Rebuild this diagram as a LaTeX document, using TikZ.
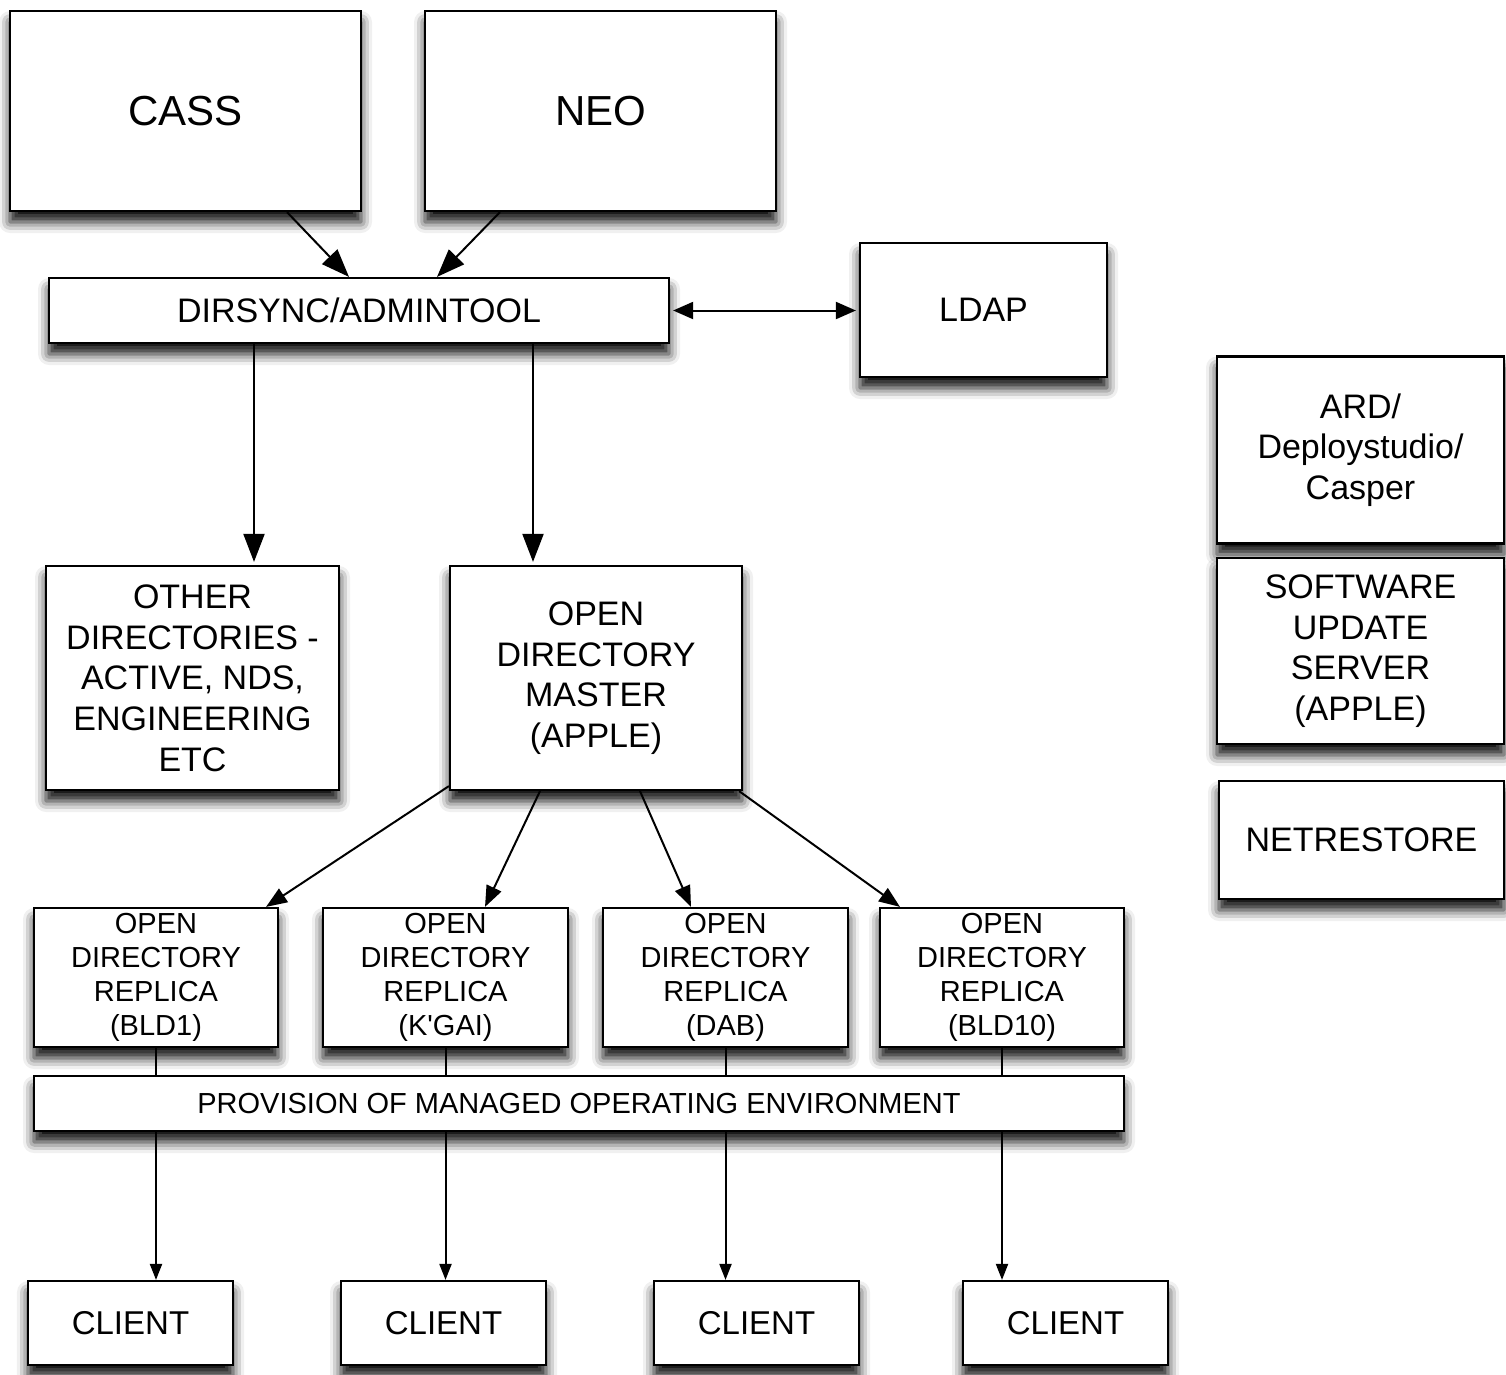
\documentclass[tikz,border=0pt]{standalone}
\usepackage{fontspec}
\setmainfont{Liberation Sans}[Ligatures=TeXOff]
\usetikzlibrary{arrows.meta,shadows.blur}
\begin{document}
\begin{tikzpicture}[x=1pt,y=-1pt,
  box/.style={draw, line width=2.2pt, fill=white, align=center, inner sep=0pt,
    blur shadow={shadow xshift=0pt, shadow yshift=-11pt, shadow blur radius=11pt, shadow opacity=95}},
  huge/.style={font=\fontsize{42}{50}\selectfont},
  big/.style={font=\fontsize{34}{40.7}\selectfont},
  cli/.style={font=\fontsize{33}{40}\selectfont},
  small/.style={font=\fontsize{29}{34.2}\selectfont},
  conn/.style={line width=2pt},
  arrbig/.style={conn, -{Triangle[length=28pt,width=21pt]}},
  arrmid/.style={conn, -{Triangle[length=21pt,width=16pt]}},
  arrsmall/.style={conn, -{Triangle[length=16pt,width=12pt]}},
  arrboth/.style={conn, {Triangle[length=20pt,width=17pt]}-{Triangle[length=20pt,width=17pt]}, shorten <=3pt, shorten >=3pt}]
\useasboundingbox (0,0) rectangle (1506,1374);

% top sources
\node[box,huge,minimum width=351pt,minimum height=200pt] (cass) at (185.5,111) {CASS};
\node[box,huge,minimum width=351pt,minimum height=200pt] (neo) at (600.5,111) {NEO};

% synchronisation layer
\node[box,big,minimum width=620pt,minimum height=65pt] (dirsync) at (359,310.5) {DIRSYNC/ADMINTOOL};
\node[box,big,minimum width=247pt,minimum height=134pt] (ldap) at (983.5,310) {LDAP};

% side services
\node[box,big,minimum width=287pt,minimum height=187pt] (ard) at (1360.5,450) {ARD/\\Deploystudio/\\Casper};
\node[box,big,minimum width=287pt,minimum height=186pt] (sus) at (1360.5,651) {SOFTWARE\\UPDATE\\SERVER\\(APPLE)};
\node[box,big,minimum width=285pt,minimum height=118pt] (netrestore) at (1361.5,840) {NETRESTORE};

% directories
\node[box,big,minimum width=293pt,minimum height=224pt] (other) at (192.5,678) {OTHER\\DIRECTORIES -\\ACTIVE, NDS,\\ENGINEERING\\ETC};
\node[box,big,minimum width=292pt,minimum height=224pt] (odm) at (596,678) {OPEN\\DIRECTORY\\MASTER\\(APPLE)};

% replicas
\node[box,small,minimum width=244pt,minimum height=139pt] (r1) at (156,977.5) {OPEN\\DIRECTORY\\REPLICA\\(BLD1)};
\node[box,small,minimum width=245pt,minimum height=139pt] (r2) at (445.5,977.5) {OPEN\\DIRECTORY\\REPLICA\\(K'GAI)};
\node[box,small,minimum width=245pt,minimum height=139pt] (r3) at (725.5,977.5) {OPEN\\DIRECTORY\\REPLICA\\(DAB)};
\node[box,small,minimum width=244pt,minimum height=139pt] (r4) at (1002,977.5) {OPEN\\DIRECTORY\\REPLICA\\(BLD10)};

% managed environment bar
\node[box,small,minimum width=1090pt,minimum height=55pt] (prov) at (579,1103.5) {PROVISION OF MANAGED OPERATING ENVIRONMENT};

% clients
\node[box,cli,minimum width=205pt,minimum height=84pt] (c1) at (130.5,1323) {CLIENT};
\node[box,cli,minimum width=205pt,minimum height=84pt] (c2) at (443.5,1323) {CLIENT};
\node[box,cli,minimum width=205pt,minimum height=84pt] (c3) at (756.5,1323) {CLIENT};
\node[box,cli,minimum width=205pt,minimum height=84pt] (c4) at (1065.5,1323) {CLIENT};

% sources into dirsync
\draw[arrbig] ([xshift=101.5pt]cass.south) -- ([xshift=-10pt]dirsync.north);
\draw[arrbig] ([xshift=-100.5pt]neo.south) -- ([xshift=78pt]dirsync.north);
\draw[arrboth] (dirsync.east) -- (dirsync.east -| ldap.west);

% dirsync down to directories
\coordinate (d1) at ([xshift=-105pt]dirsync.south);
\coordinate (d2) at ([xshift=174pt]dirsync.south);
\draw[arrbig, shorten >=3pt] (d1) -- (d1 |- other.north);
\draw[arrbig, shorten >=3pt] (d2) -- (d2 |- odm.north);

% master to replicas
\draw[arrmid] ([yshift=5pt]odm.south west) -- ([xshift=110pt]r1.north);
\draw[arrmid] ([xshift=-56pt]odm.south) -- ([xshift=39.5pt]r2.north);
\draw[arrmid] ([xshift=44pt]odm.south) -- ([xshift=-34.5pt]r3.north);
\draw[arrmid] ([xshift=-4pt]odm.south east) -- ([xshift=-102pt]r4.north);

% replicas into the bar, bar down to clients
\foreach \r/\c in {r1/c1,r2/c2,r3/c3,r4/c4}{
  \draw[conn] (\r.south) -- (\r.south |- prov.north);
  \draw[arrsmall] (\r.south |- prov.south) -- (\r.south |- \c.north);
}
\end{tikzpicture}
\end{document}
